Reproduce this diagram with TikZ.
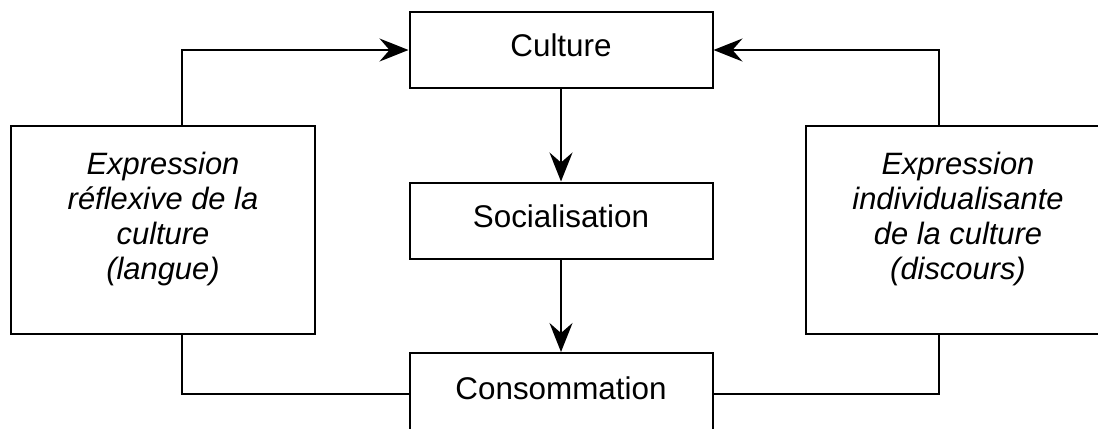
\documentclass[tikz,border=0pt]{standalone}
\usepackage{fontspec}
\setmainfont{Liberation Sans}
\usetikzlibrary{arrows.meta}

\begin{document}
\begin{tikzpicture}[x=1bp,y=-1bp, line width=2bp,
  box/.style={draw, minimum width=303bp, minimum height=76bp, inner sep=0pt,
    font=\fontsize{31.5}{35}\selectfont, text height=24bp, text depth=11bp},
  tall/.style={draw, minimum width=304bp, minimum height=208bp, inner sep=0pt},
  note/.style={align=center, font=\fontsize{31}{35}\selectfont\itshape},
  arr/.style={-{Stealth[length=29bp 0 0,width=23bp 0 0,inset=10bp 0 0]}}]
  \useasboundingbox (0,0) rectangle (1098,428);
  \node[box] (culture) at (561,50) {Culture};
  \node[box] (social) at (561,220.5) {Socialisation};
  \node[box, minimum height=80bp] (conso) at (561,393) {Consommation};
  \node[tall] (langue) at (163,230) {};
  \node[tall] (discours) at (958,230) {};
  \node[note] (langueTxt) at ([yshift=11bp]langue.center) {Expression\\réflexive de la\\culture\\(langue)};
  \node[note] (discoursTxt) at ([yshift=11bp]discours.center) {Expression\\individualisante\\de la culture\\(discours)};
  \coordinate (lt) at (182,126);
  \coordinate (lb) at (182,334);
  \coordinate (rt) at (939,126);
  \coordinate (rb) at (939,334);
  \draw[arr] (culture) -- (social);
  \draw[arr] (social) -- (conso);
  \draw[arr] (lt) |- (culture.west);
  \draw[arr] (rt) |- (culture.east);
  \draw (lb) |- ([yshift=-1bp]conso.west);
  \draw (rb) |- ([yshift=-1bp]conso.east);
\end{tikzpicture}
\end{document}
